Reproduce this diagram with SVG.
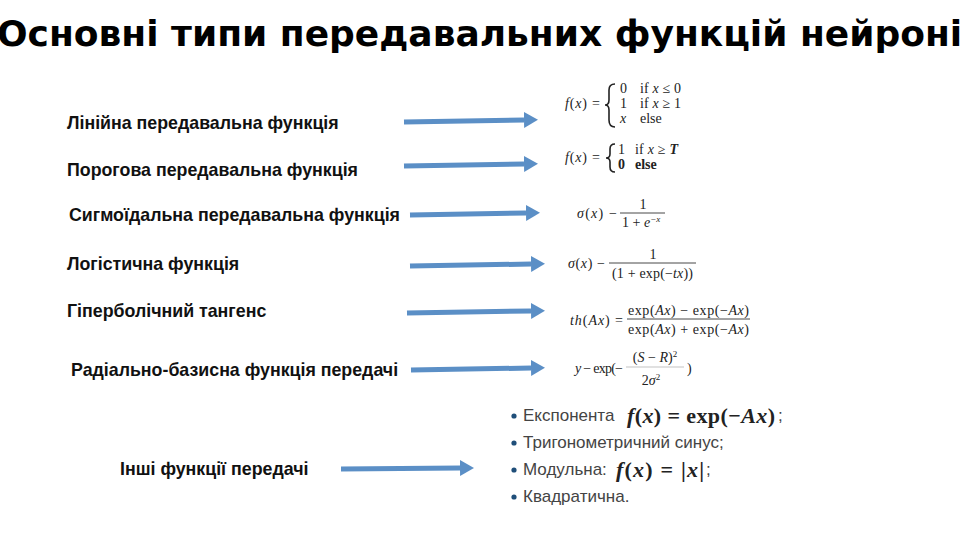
<svg xmlns="http://www.w3.org/2000/svg" width="960" height="540" viewBox="0 0 960 540">
<defs>
<style>
.title{font-family:"DejaVu Sans","Liberation Sans",sans-serif;font-weight:bold;font-size:36px;fill:#000}
.lbl{font-family:"Liberation Sans",Arial,sans-serif;font-weight:bold;font-size:17.8px;fill:#111}
.m{font-family:"Liberation Serif","DejaVu Serif",serif;font-size:14px;fill:#222}
.mi{font-style:italic}
.mb{font-weight:bold}
.li{font-family:"Liberation Sans",Arial,sans-serif;font-size:17px;fill:#444}
.big{font-family:"Liberation Serif","DejaVu Serif",serif;font-size:22px;fill:#222;font-weight:bold}
.arr{stroke:#5b8fc6;stroke-width:5;fill:none;marker-end:url(#ah)}
.fl{stroke:#333;stroke-width:0.9}
.bul{fill:#1f4e79}
</style>
<marker id="ah" markerUnits="userSpaceOnUse" markerWidth="15" markerHeight="16" refX="0" refY="8" orient="auto">
<path d="M0,0 L14,8 L0,16 z" fill="#5b8fc6"/>
</marker>
</defs>
<rect width="960" height="540" fill="#fff"/>
<text class="title" x="-3" y="46">Основні типи передавальних функцій нейронів</text>

<g id="connectors">
<path class="arr" d="M404,122 L524,120"/>
<path class="arr" d="M404,166 L524,164"/>
<path class="arr" d="M410,215 L526,213"/>
<path class="arr" d="M410,266 L531,264"/>
<path class="arr" d="M407,313 L531,311"/>
<path class="arr" d="M411,370 L531,368"/>
<path class="arr" d="M341,469 L460,468"/>
</g>

<g id="lbl-linear"><text class="lbl" x="67" y="129">Лінійна передавальна функція</text></g>
<g id="lbl-threshold"><text class="lbl" x="67" y="176">Порогова передавальна функція</text></g>
<g id="lbl-sigmoid"><text class="lbl" x="69" y="221">Сигмоїдальна передавальна функція</text></g>
<g id="lbl-logistic"><text class="lbl" x="67" y="270">Логістична функція</text></g>
<g id="lbl-tanh"><text class="lbl" x="67" y="317">Гіперболічний тангенс</text></g>
<g id="lbl-rbf"><text class="lbl" x="71" y="376">Радіально-базисна функція передачі</text></g>
<g id="lbl-other"><text class="lbl" x="120" y="475">Інші функції передачі</text></g>

<g id="f-linear">
<text class="m" x="565" y="108" textLength="35"><tspan class="mi">f</tspan>(<tspan class="mi">x</tspan>) =</text>
<path d="M615,84 Q609,84 609,90 L609,100 Q609,105 605,105 Q609,105 609,110 L609,120 Q609,127 615,127" fill="none" stroke="#222" stroke-width="1.6"/>
<text class="m" x="620" y="93">0</text><text class="m" x="640" y="93" textLength="41">if <tspan class="mi">x</tspan> ≤ 0</text>
<text class="m" x="620" y="108">1</text><text class="m" x="640" y="108" textLength="41">if <tspan class="mi">x</tspan> ≥ 1</text>
<text class="m mi" x="620" y="123">x</text><text class="m" x="640" y="123">else</text>
</g>

<g id="f-threshold">
<text class="m" x="565" y="162" textLength="35"><tspan class="mi">f</tspan>(<tspan class="mi">x</tspan>) =</text>
<path d="M615,144 Q610,144 610,149 L610,154 Q610,158 606,158 Q610,158 610,162 L610,167 Q610,172 615,172" fill="none" stroke="#222" stroke-width="1.6"/>
<text class="m" x="618" y="154">1</text><text class="m" x="635" y="154" textLength="43">if <tspan class="mi">x</tspan> ≥ <tspan class="mi mb">T</tspan></text>
<text class="m mb" x="618" y="169">0</text><text class="m mb" x="635" y="169">else</text>
</g>

<g id="f-sigmoid">
<text class="m" x="577" y="218" textLength="40"><tspan class="mi">σ</tspan>(<tspan class="mi">x</tspan>) −</text>
<text class="m" x="643" y="209" text-anchor="middle">1</text>
<line class="fl" x1="620" y1="213" x2="665" y2="213"/>
<text class="m" x="622" y="227">1 + <tspan class="mi">e</tspan><tspan font-size="9" dy="-5" class="mi">−x</tspan></text>
</g>

<g id="f-logistic">
<text class="m" x="568" y="268" textLength="37"><tspan class="mi">σ</tspan>(<tspan class="mi">x</tspan>) −</text>
<text class="m" x="653" y="259" text-anchor="middle">1</text>
<line class="fl" x1="609" y1="263" x2="696" y2="263"/>
<text class="m" x="612" y="278" textLength="81">(1 + exp(−<tspan class="mi">tx</tspan>))</text>
</g>

<g id="f-tanh">
<text class="m" x="570" y="325" textLength="53"><tspan class="mi">th</tspan>(<tspan class="mi">Ax</tspan>) =</text>
<text class="m" x="628" y="315" textLength="121">exp(<tspan class="mi">Ax</tspan>) − exp(−<tspan class="mi">Ax</tspan>)</text>
<line class="fl" x1="627" y1="319" x2="750" y2="319"/>
<text class="m" x="628" y="334" textLength="121">exp(<tspan class="mi">Ax</tspan>) + exp(−<tspan class="mi">Ax</tspan>)</text>
</g>

<g id="f-rbf">
<text class="m" x="575" y="373" textLength="48"><tspan class="mi">y</tspan> − exp(−</text>
<text class="m" x="655" y="362" text-anchor="middle">(<tspan class="mi">S</tspan> − <tspan class="mi">R</tspan>)<tspan font-size="9" dy="-5">2</tspan></text>
<line x1="626" y1="367" x2="684" y2="367" stroke="#aaa" stroke-width="0.7"/>
<text class="m" x="651" y="385" text-anchor="middle">2<tspan class="mi">σ</tspan><tspan font-size="9" dy="-5">2</tspan></text>
<text class="m" x="687" y="373">)</text>
</g>

<g id="f-other">
<circle class="bul" cx="514" cy="416" r="2.6"/>
<text class="li" x="523" y="421">Експонента</text>
<text class="big" x="627" y="423" textLength="148"><tspan font-style="italic">f</tspan>(<tspan font-style="italic">x</tspan>) = exp(−<tspan font-style="italic">Ax</tspan>)</text>
<text class="li" x="778" y="421">;</text>
<circle class="bul" cx="514" cy="443" r="2.6"/>
<text class="li" x="523" y="448">Тригонометричний синус;</text>
<circle class="bul" cx="514" cy="470" r="2.6"/>
<text class="li" x="523" y="475">Модульна:</text>
<text class="big" x="616" y="477" textLength="88"><tspan font-style="italic">f</tspan>(<tspan font-style="italic">x</tspan>) = |<tspan font-style="italic">x</tspan>|</text>
<text class="li" x="706" y="475">;</text>
<circle class="bul" cx="514" cy="497" r="2.6"/>
<text class="li" x="523" y="502">Квадратична.</text>
</g>
</svg>
